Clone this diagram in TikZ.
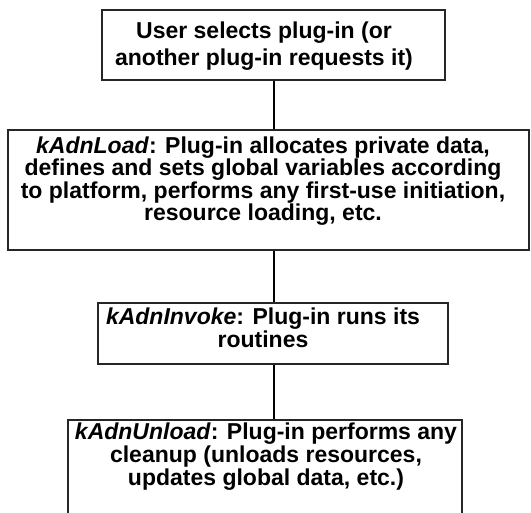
\documentclass[tikz,border=0pt]{standalone}
\usepackage{fontspec}
\setmainfont{Liberation Sans}
\begin{document}
\begin{tikzpicture}[x=1pt,y=-1pt,
  stage/.style={draw=black!85, line width=1.4pt, fill=white, inner sep=0pt},
  link/.style={draw=black, line width=2pt},
  caption/.style={inner sep=0pt, align=center, font=\bfseries\fontsize{23}{#1}\selectfont}]
  \useasboundingbox (0,0) rectangle (531,513);
  \clip (0,0) rectangle (531,513);

  % the four stages of a plug-in's life
  \node[stage, minimum width=343pt, minimum height=70pt]  (sel)    at (273.5,45)  {};
  \node[stage, minimum width=521pt, minimum height=120pt] (load)   at (268.5,190) {};
  \node[stage, minimum width=350pt, minimum height=61pt]  (invoke) at (273,333.5) {};
  \node[stage, minimum width=394pt, minimum height=120pt] (unload) at (265,480)   {};

  % connectors down the middle column
  \draw[link] (sel.south) -- (sel.south |- load.north);
  \draw[link] (sel.south |- load.south) -- (sel.south |- invoke.north);
  \draw[link] (sel.south |- invoke.south) -- (sel.south |- unload.north);

  % texts
  \node[caption=27pt] (tsel) at (264,46)
    {User selects plug-in (or\\another plug-in requests it)};
  \node[caption=20.5pt] (tload) at (263,181)
    {\textit{kAdnLoad}: Plug-in allocates private data,\\
     defines and sets global variables according\\
     to platform, performs any first-use initiation,\\
     resource loading, etc.};
  \node[caption=23pt] (tinvoke) at (263,327.5)
    {\textit{kAdnInvoke}: Plug-in runs its\\routines};
  \node[caption=23pt] (tunload) at (266,457)
    {\textit{kAdnUnload}: Plug-in performs any\\
     cleanup (unloads resources,\\
     updates global data, etc.)};
\end{tikzpicture}
\end{document}
